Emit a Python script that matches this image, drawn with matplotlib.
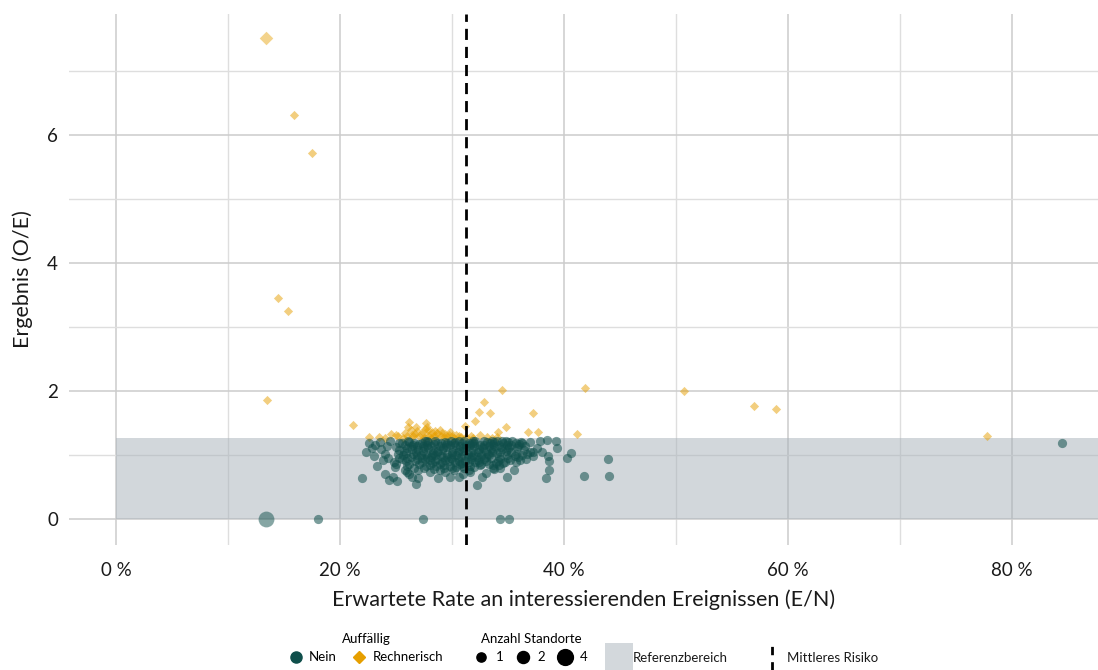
import matplotlib
matplotlib.use("Agg")
import matplotlib.pyplot as plt
from matplotlib.lines import Line2D
from matplotlib.patches import Rectangle
from matplotlib.ticker import FuncFormatter, MultipleLocator

plt.rcParams['font.family'] = ['Lato', 'DejaVu Sans']

# --- data -------------------------------------------------------------
# Auffaellig = "Nein" (teal circles), x = E/N in %, y = O/E
nein_x = [
    26.1, 27.3, 28.5, 29.4, 30.2, 31.1, 32.0, 32.9, 33.8, 34.6,
    35.4, 36.0, 25.8, 26.9, 27.8, 28.9, 29.8, 30.7, 31.6, 32.5,
    33.3, 34.2, 35.1, 35.8, 26.4, 27.5, 28.3, 29.2, 30.1, 31.0,
    31.9, 32.8, 33.7, 34.5, 35.3, 25.9, 26.8, 27.7, 28.7, 29.6,
    30.5, 31.4, 32.3, 33.2, 34.0, 34.9, 35.7, 26.3, 27.2, 28.1,
    29.0, 29.9, 30.8, 31.7, 32.6, 33.5, 34.3, 26.7, 27.6, 28.5,
    29.4, 30.3, 31.2, 32.1, 33.0, 33.9, 27.1, 28.0, 28.9, 29.8,
    30.7, 31.6, 32.5, 27.5, 28.4, 29.3, 30.2, 31.1, 26.6, 27.9,
    29.0, 30.6, 31.5, 33.4, 34.0, 26.5, 28.4, 30.3, 32.0, 33.8,
    27.0, 28.8, 30.6, 32.4, 34.4, 26.0, 27.3, 29.2, 31.1, 33.0,
    34.8, 35.9, 28.2, 30.0, 31.9, 33.6, 28.0, 30.0, 31.8, 32.9,
    29.1, 30.9, 32.6, 28.6, 30.4, 27.4, 29.5, 31.3, 33.0, 34.9,
    36.4, 36.7, 35.9, 35.2, 34.7, 25.3, 25.6, 25.9, 26.2, 26.6,
    27.8, 29.9, 31.9, 33.6, 35.0, 26.9, 28.5, 30.4, 32.2, 34.2,
    25.5, 26.3, 27.1, 27.9, 28.7, 29.5, 30.3, 31.3, 32.1, 32.9,
    33.7, 34.5, 35.3, 36.2, 25.7, 26.5, 27.4, 28.3, 29.1, 30.0,
    30.9, 31.7, 32.6, 33.5, 34.3, 35.0, 35.6, 26.0, 26.9, 27.8,
    28.7, 29.6, 30.5, 31.4, 32.3, 33.3, 34.1, 35.0, 27.3, 28.2,
    29.7, 30.6, 31.5, 32.4, 33.3, 34.2, 27.7, 29.3, 30.9, 32.0,
    26.2, 27.6, 29.6, 31.8, 33.1, 34.8, 35.7, 28.1, 30.9, 32.7,
    25.0, 25.2, 25.5, 25.0, 26.0, 27.0, 28.9, 30.0, 31.5, 33.8,
    36.5, 37.0, 36.3, 35.7, 24.2, 24.0, 24.3, 23.6, 23.1, 22.9,
    22.0, 22.3, 22.6, 23.0, 23.3, 23.7, 23.8, 24.0, 24.4, 24.7,
    24.5, 25.1, 24.8, 25.3, 25.3, 26.0, 26.4, 26.8, 27.0, 24.9,
    25.8, 26.2, 28.0, 28.8, 29.8, 30.6, 31.6, 32.2, 32.7, 33.0,
    33.7, 33.7, 34.3, 34.6, 34.9, 35.5, 36.1, 36.6, 37.2, 38.0,
    37.6, 37.2, 36.3, 37.0, 37.9, 38.5, 39.3, 39.4, 40.6, 40.3,
    38.7, 38.6, 38.7, 38.4, 41.8, 43.9, 44.0, 84.5, 29.4, 31.0,
    18.0, 27.4, 34.3, 35.1,
]
nein_y = [
    1.21, 1.19, 1.22, 1.20, 1.18, 1.21, 1.19, 1.22, 1.20, 1.18,
    1.21, 1.17, 1.15, 1.13, 1.16, 1.14, 1.16, 1.13, 1.15, 1.16,
    1.13, 1.15, 1.12, 1.10, 1.09, 1.10, 1.08, 1.11, 1.07, 1.10,
    1.08, 1.11, 1.07, 1.09, 1.05, 1.03, 1.05, 1.02, 1.04, 1.01,
    1.04, 1.02, 1.05, 1.01, 1.03, 0.99, 1.01, 0.97, 0.99, 0.96,
    0.98, 0.95, 0.97, 0.94, 0.98, 0.95, 0.93, 0.91, 0.93, 0.90,
    0.92, 0.89, 0.91, 0.88, 0.90, 0.87, 0.86, 0.84, 0.86, 0.83,
    0.85, 0.82, 0.84, 0.80, 0.78, 0.79, 0.77, 0.79, 1.19, 1.20,
    1.19, 1.22, 1.18, 1.18, 1.21, 1.16, 1.17, 1.15, 1.13, 1.14,
    1.07, 1.06, 1.08, 1.09, 1.12, 1.10, 0.95, 0.96, 0.99, 0.97,
    1.06, 1.14, 1.00, 1.02, 1.00, 1.04, 0.92, 0.93, 0.96, 0.93,
    0.88, 0.87, 0.86, 0.82, 0.81, 1.13, 1.12, 1.12, 1.06, 1.16,
    1.08, 1.02, 0.96, 0.92, 0.88, 1.07, 1.00, 0.91, 0.85, 0.80,
    1.22, 1.21, 1.22, 1.22, 1.20, 1.00, 0.99, 0.99, 0.96, 0.97,
    1.18, 1.13, 1.17, 1.11, 1.19, 1.15, 1.20, 1.16, 1.21, 1.15,
    1.17, 1.21, 1.16, 1.20, 1.06, 1.02, 1.06, 1.03, 1.07, 1.05,
    1.06, 1.04, 1.01, 1.09, 1.05, 1.09, 0.98, 0.95, 0.94, 0.97,
    0.94, 0.97, 0.95, 0.96, 0.92, 0.99, 0.90, 0.95, 0.89, 0.87,
    0.90, 0.91, 0.88, 0.89, 0.85, 0.84, 0.83, 0.84, 0.83, 0.81,
    1.20, 1.21, 1.18, 1.19, 1.20, 1.22, 1.19, 1.14, 1.19, 1.12,
    1.12, 1.02, 0.93, 0.86, 0.83, 0.77, 0.76, 0.79, 0.77, 0.78,
    1.13, 1.05, 0.99, 0.89, 1.14, 1.02, 0.95, 1.20, 1.16, 1.10,
    0.64, 1.05, 1.19, 0.98, 0.83, 1.09, 0.92, 0.70, 0.61, 0.66,
    1.22, 0.59, 0.89, 1.19, 0.95, 0.73, 0.66, 0.55, 0.64, 0.81,
    0.77, 0.70, 0.73, 0.64, 0.66, 0.66, 0.73, 0.53, 0.66, 0.72,
    0.80, 0.84, 0.80, 0.87, 0.66, 0.77, 0.92, 0.94, 0.98, 1.05,
    1.11, 1.05, 1.19, 1.20, 1.22, 1.23, 1.22, 1.11, 1.03, 0.95,
    0.91, 0.98, 0.77, 0.64, 0.67, 0.93, 0.67, 1.19, 0.73, 0.70,
    0.00, 0.00, 0.00, 0.00,
]

# Auffaellig = "Rechnerisch" (orange diamonds)
rech_x = [
    15.9, 17.5, 14.5, 15.4, 13.5, 21.2, 34.5, 41.9, 50.7, 57.0,
    58.9, 77.8, 41.2, 32.9, 32.4, 33.4, 32.1, 34.8, 31.2, 37.2,
    34.1, 36.8, 37.7, 33.1, 34.0, 23.5, 24.6, 26.2, 26.1, 26.8,
    25.8, 27.7, 27.8, 27.4, 28.2, 28.7, 29.1, 29.6, 30.4, 31.3,
    32.5, 29.8, 26.5, 27.1, 27.9, 28.4, 29.0, 30.0, 30.8, 26.3,
    28.0, 25.2, 22.6, 31.7, 27.6, 28.9,
    25.6, 26.0, 26.7, 27.3, 27.5, 28.1, 28.6, 29.3, 29.7, 30.2,
    30.6, 26.9, 27.9, 28.5, 29.4, 26.4, 24.0, 25.0, 31.9, 33.6,
]
rech_y = [
    6.31, 5.72, 3.45, 3.24, 1.86, 1.46, 2.02, 2.04, 1.99, 1.77,
    1.72, 1.30, 1.32, 1.83, 1.67, 1.66, 1.53, 1.44, 1.45, 1.66,
    1.36, 1.36, 1.35, 1.28, 1.28, 1.28, 1.33, 1.52, 1.44, 1.44,
    1.34, 1.50, 1.44, 1.36, 1.36, 1.34, 1.34, 1.28, 1.31, 1.28,
    1.31, 1.36, 1.30, 1.29, 1.30, 1.29, 1.30, 1.29, 1.28, 1.38,
    1.31, 1.29, 1.28, 1.30, 1.41, 1.38,
    1.27, 1.29, 1.33, 1.31, 1.27, 1.27, 1.30, 1.28, 1.31, 1.27,
    1.30, 1.37, 1.39, 1.37, 1.33, 1.31, 1.27, 1.31, 1.27, 1.27,
]

# sites with more than one Standort
multi_x = [13.4, 13.4]
multi_y = [0.00, 7.52]
multi_n = [4, 2]
multi_grp = ["Nein", "Rechnerisch"]

ref_upper = 1.27
mean_risk = 31.3

# --- style ------------------------------------------------------------
teal = "#0f4f4b"
orange = "#e69f00"
circle_size = {1: 44, 2: 75, 4: 130}
diamond_size = {1: 22, 2: 48, 4: 80}

fig = plt.figure(figsize=(10.98, 6.70), dpi=100)
ax = fig.add_axes([69 / 1098, 1 - 545 / 670, 1 - 69 / 1098, 531 / 670])
ax.set_xlim(-4.2, 87.7)
ax.set_ylim(-0.41, 7.89)

ax.xaxis.set_major_locator(MultipleLocator(20))
ax.xaxis.set_minor_locator(MultipleLocator(10))
ax.yaxis.set_major_locator(MultipleLocator(2))
ax.yaxis.set_minor_locator(MultipleLocator(1))
ax.xaxis.set_major_formatter(FuncFormatter(lambda v, p: f"{v:.0f} %"))
ax.set_axisbelow(True)
ax.grid(which="major", color="#cccccc", lw=1.1)
ax.grid(which="minor", color="#dedede", lw=1.0)
for s in ax.spines.values():
    s.set_visible(False)
ax.tick_params(which="both", length=0, labelsize=13.5, colors="#1a1a1a")
ax.tick_params(axis="x", pad=12)
ax.tick_params(axis="y", pad=8)

ax.add_patch(Rectangle((0, 0), 200, ref_upper, color="#a7b1b9", alpha=0.5,
                       lw=0, zorder=1))

ax.scatter(rech_x, rech_y, marker="D", s=diamond_size[1], color=orange,
           alpha=0.5, linewidths=0, zorder=2)
ax.scatter(nein_x, nein_y, marker="o", s=circle_size[1], color=teal,
           alpha=0.55, linewidths=0, zorder=3)
for x, y, n, g in zip(multi_x, multi_y, multi_n, multi_grp):
    if g == "Nein":
        ax.scatter([x], [y], marker="o", s=circle_size[n], color=teal,
                   alpha=0.5, linewidths=0, zorder=3)
    else:
        ax.scatter([x], [y], marker="D", s=diamond_size[n], color=orange,
                   alpha=0.45, linewidths=0, zorder=2)

ax.axvline(mean_risk, color="black", lw=2, ls=(0, (4, 2.5)), zorder=5)

ax.set_xlabel("Erwartete Rate an interessierenden Ereignissen (E/N)",
              fontsize=15.5, labelpad=8, color="#1a1a1a")
ax.set_ylabel("Ergebnis (O/E)", fontsize=15.5, labelpad=10, color="#1a1a1a")

# --- legend -----------------------------------------------------------
h_grp = [
    Line2D([], [], marker="o", ls="", color=teal, markersize=8, label="Nein"),
    Line2D([], [], marker="D", ls="", color=orange, markersize=6,
           label="Rechnerisch"),
]
fig.legend(handles=h_grp, title="Auffällig", ncol=2, frameon=False,
           loc="center", bbox_to_anchor=(366 / 1098, 1 - 648 / 670),
           fontsize=9.5, title_fontsize=9.5, handletextpad=0.5,
           columnspacing=1.2, handlelength=1.0)

h_n = [Line2D([], [], marker="o", ls="", color="black",
              markersize=circle_size[n] ** 0.5, label=str(n))
       for n in (1, 2, 4)]
fig.legend(handles=h_n, title="Anzahl Standorte", ncol=3, frameon=False,
           loc="center", bbox_to_anchor=(531 / 1098, 1 - 648 / 670),
           fontsize=9.5, title_fontsize=9.5, handletextpad=0.6,
           columnspacing=1.0, handlelength=1.0)

fig.add_artist(Rectangle((605 / 1098, 0), 28 / 1098, 27 / 670,
                         transform=fig.transFigure, color="#d3d8dc", lw=0))
fig.text(633 / 1098, 1 - 658 / 670, "Referenzbereich", fontsize=9.5,
         va="center", ha="left", color="#1a1a1a")
fig.add_artist(Line2D([772 / 1098, 772 / 1098], [0, 25 / 670],
                      transform=fig.transFigure, color="black", lw=2,
                      ls=(0, (3, 2.5))))
fig.text(787 / 1098, 1 - 658 / 670, "Mittleres Risiko", fontsize=9.5,
         va="center", ha="left", color="#1a1a1a")

fig.savefig("out.png", dpi=100)
